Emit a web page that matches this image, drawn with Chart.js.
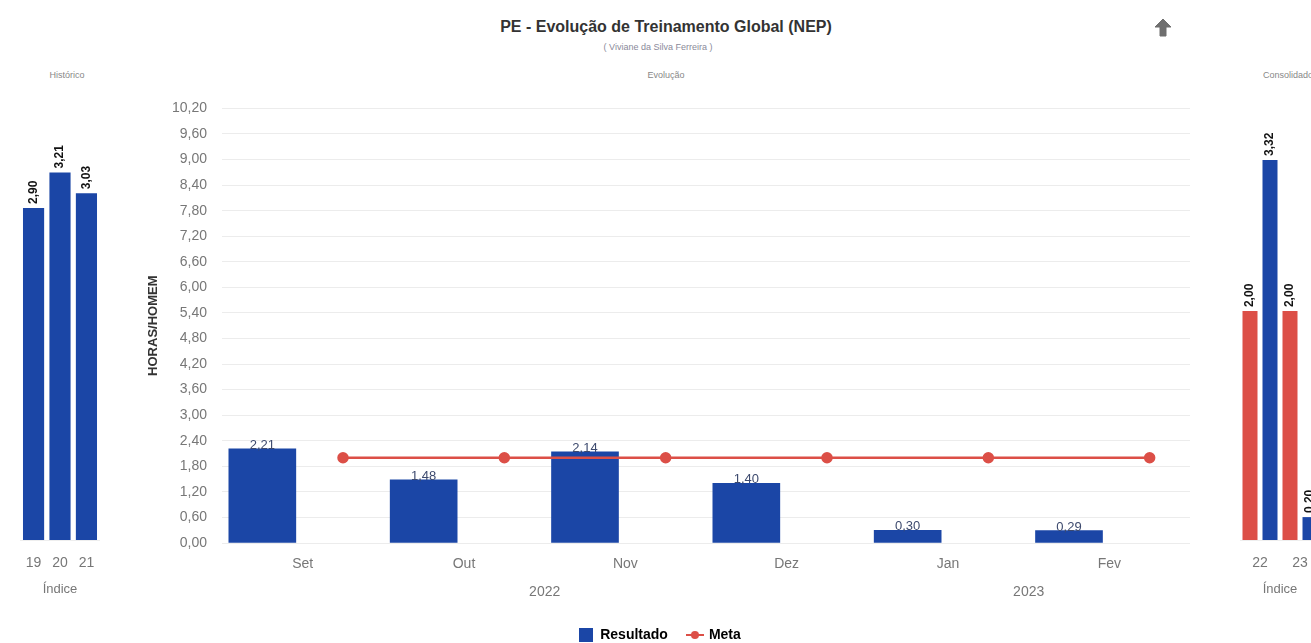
<!DOCTYPE html>
<html lang="pt-BR">
<head>
<meta charset="utf-8">
<title>PE - Evolução de Treinamento Global (NEP)</title>
<script src="https://cdn.jsdelivr.net/npm/chart.js@4.4.1/dist/chart.umd.min.js"></script>
<style>
    html, body {
        margin: 0;
        padding: 0;
        width: 1311px;
        height: 643px;
        overflow: hidden;
        background: #fff;
        font-family: "Liberation Sans", Arial, sans-serif;
    }
    .abs { position: absolute; }
    #title { left: 0; width: 1332px; top: 18px; text-align: center; font-size: 16px; font-weight: bold; color: #333; }
    #subtitle { left: 0; width: 1316px; top: 42px; text-align: center; font-size: 9px; color: #8a8a9a; }
    .small { font-size: 9px; color: #888; }
</style>
</head>
<body>
<div id="title" class="abs">PE - Evolução de Treinamento Global (NEP)</div>
<div id="subtitle" class="abs">( Viviane da Silva Ferreira )</div>
<svg class="abs" style="left:1155px;top:19px" width="16" height="18" viewBox="0 0 16 18">
    <polygon points="8,0 16,8 11,8 11,17 5,17 5,8 0,8" fill="#6f6f6f" stroke="#6f6f6f" stroke-linejoin="round" stroke-width="1"/>
</svg>
<div class="abs small" style="left:37px;top:70px;width:60px;text-align:center">Histórico</div>
<div class="abs small" style="left:636px;top:70px;width:60px;text-align:center">Evolução</div>
<div class="abs small" style="left:1263px;top:70px">Consolidado</div>

<div class="abs" style="left:19px;top:85px;width:82px;height:525px"><canvas id="histChart"></canvas></div>
<div class="abs" style="left:130px;top:85px;width:1070px;height:567px"><canvas id="mainChart"></canvas></div>
<div class="abs" style="left:1240px;top:85px;width:80px;height:525px"><canvas id="consChart"></canvas></div>

<script>
// monthly evolution
const months = ['Set', 'Out', 'Nov', 'Dez', 'Jan', 'Fev'];
const monthYears = ['2022', '2022', '2022', '2022', '2023', '2023'];
const resultado = [2.21, 1.48, 2.14, 1.40, 0.30, 0.29];
const meta = [2.00, 2.00, 2.00, 2.00, 2.00, 2.00];
const yMax = 10.2;
const yStep = 0.6;

// history (left)
const histLabels = ['19', '20', '21'];
const histValues = [2.90, 3.21, 3.03];

// consolidated (right)
const consLabels = ['22', '23'];
const consMeta = [2.00, 2.00];
const consResultado = [3.32, 0.20];

const BLUE = '#1b46a6';
const RED = '#dc4f47';
const FONT = '"Liberation Sans", Arial, sans-serif';

// draws the value above each bar
const barLabels = {
    id: 'barLabels',
    afterDatasetsDraw(chart, args, opts) {
        const ctx = chart.ctx;
        chart.data.datasets.forEach((ds, di) => {
            if (ds.type === 'line' || !chart.isDatasetVisible(di)) return;
            chart.getDatasetMeta(di).data.forEach((bar, i) => {
                const raw = ds.data[i];
                const v = (raw && typeof raw === 'object') ? raw.y : raw;
                if (v == null) return;
                const txt = v.toFixed(2).replace('.', ',');
                ctx.save();
                ctx.font = opts.font;
                ctx.fillStyle = opts.color;
                if (opts.rotate) {
                    ctx.translate(bar.x, bar.y - 4);
                    ctx.rotate(-Math.PI / 2);
                    ctx.textAlign = 'left';
                    ctx.textBaseline = 'middle';
                    ctx.fillText(txt, 0, 0);
                } else {
                    ctx.textAlign = 'center';
                    ctx.textBaseline = 'bottom';
                    ctx.fillText(txt, bar.x, bar.y + 3);
                }
                ctx.restore();
            });
        });
    }
};

// second row of the x axis: the year under its months
const yearLabels = {
    id: 'yearLabels',
    afterDraw(chart) {
        const x = chart.scales.x;
        const ctx = chart.ctx;
        let start = 0;
        ctx.save();
        ctx.font = '14px ' + FONT;
        ctx.fillStyle = '#777';
        ctx.textAlign = 'center';
        ctx.textBaseline = 'middle';
        for (let i = 1; i <= monthYears.length; i++) {
            if (i === monthYears.length || monthYears[i] !== monthYears[start]) {
                const cx = (x.getPixelForValue(start) + x.getPixelForValue(i - 1)) / 2;
                ctx.fillText(monthYears[start], cx, x.top + 49);
                start = i;
            }
        }
        ctx.restore();
    }
};

// legend icons
const squareIcon = document.createElement('canvas');
squareIcon.width = 14; squareIcon.height = 14;
squareIcon.getContext('2d').fillStyle = BLUE;
squareIcon.getContext('2d').fillRect(0, 0, 14, 14);

const lineIcon = document.createElement('canvas');
lineIcon.width = 18; lineIcon.height = 10;
(() => {
    const c = lineIcon.getContext('2d');
    c.strokeStyle = RED; c.fillStyle = RED; c.lineWidth = 2;
    c.beginPath(); c.moveTo(0, 5); c.lineTo(18, 5); c.stroke();
    c.beginPath(); c.arc(9, 5, 4, 0, Math.PI * 2); c.fill();
})();

// bars sit in the left half of each month, Meta points in the right half
new Chart(document.getElementById('mainChart'), {
    data: {
        labels: months,
        datasets: [
            {
                type: 'bar',
                label: 'Resultado',
                data: resultado.map((v, i) => ({ x: i - 0.25, y: v })),
                xAxisID: 'xm',
                backgroundColor: BLUE,
                barThickness: 67,
                order: 1
            },
            {
                type: 'line',
                label: 'Meta',
                data: meta.map((v, i) => ({ x: i + 0.25, y: v })),
                xAxisID: 'xm',
                borderColor: RED,
                backgroundColor: RED,
                borderWidth: 2.5,
                pointRadius: 4.5,
                pointHoverRadius: 4.5,
                order: 0
            }
        ]
    },
    options: {
        responsive: true,
        maintainAspectRatio: false,
        animation: false,
        layout: { autoPadding: false, padding: { top: 18, right: 10, left: 0, bottom: 0 } },
        plugins: {
            legend: {
                position: 'bottom',
                labels: {
                    usePointStyle: true,
                    padding: 20,
                    color: '#333',
                    font: { family: FONT, size: 14, weight: 'bold' },
                    generateLabels: () => [
                        { text: 'Resultado', pointStyle: squareIcon, fillStyle: BLUE, strokeStyle: BLUE, lineWidth: 0, datasetIndex: 0 },
                        { text: 'Meta', pointStyle: lineIcon, fillStyle: RED, strokeStyle: RED, lineWidth: 0, datasetIndex: 1 }
                    ]
                }
            },
            tooltip: { enabled: false },
            barLabels: { font: '13px ' + FONT, color: '#3d4a6e', rotate: false }
        },
        scales: {
            x: {
                type: 'category',
                offset: true,
                grid: { display: false },
                border: { display: false },
                ticks: { color: '#777', padding: 5, font: { family: FONT, size: 14 } },
                afterFit: (s) => { s.height = s.chart.height - 458 - (s.chart.legend ? s.chart.legend.height : 0); }
            },
            xm: {
                type: 'linear',
                display: false,
                offset: false,
                min: -0.5,
                max: months.length - 0.5
            },
            y: {
                min: 0,
                max: yMax,
                grid: { color: '#ececec', drawTicks: false },
                border: { display: false },
                ticks: {
                    stepSize: yStep,
                    padding: 15,
                    color: '#777',
                    font: { family: FONT, size: 14 },
                    callback: (v) => v.toFixed(2).replace('.', ',')
                },
                title: {
                    display: true,
                    text: 'HORAS/HOMEM',
                    color: '#333',
                    padding: { top: 16, bottom: 0 },
                    font: { family: FONT, size: 13, weight: 'bold' }
                },
                afterFit: (s) => { s.width = 92; }
            }
        }
    },
    plugins: [barLabels, yearLabels]
});

const sideOptions = (yTop) => ({
    responsive: true,
    maintainAspectRatio: false,
    animation: false,
    layout: { autoPadding: false, padding: { top: 20, left: 0, right: 0, bottom: 0 } },
    plugins: {
        legend: { display: false },
        tooltip: { enabled: false },
        barLabels: { font: 'bold 12px ' + FONT, color: '#111', rotate: true }
    },
    scales: {
        x: {
            grid: { display: false },
            border: { color: '#eeeeee' },
            ticks: { color: '#777', padding: 7, font: { family: FONT, size: 14 } },
            title: {
                display: true,
                text: 'Índice',
                color: '#777',
                padding: { top: 0, bottom: 13 },
                font: { family: FONT, size: 13 }
            },
            afterFit: (s) => { s.height = 70; }
        },
        y: { display: false, min: 0, max: yTop }
    }
});

new Chart(document.getElementById('histChart'), {
    type: 'bar',
    data: {
        labels: histLabels,
        datasets: [{ label: 'Resultado', data: histValues, backgroundColor: BLUE, barPercentage: 0.8, categoryPercentage: 1 }]
    },
    options: sideOptions(3.8),
    plugins: [barLabels]
});

new Chart(document.getElementById('consChart'), {
    type: 'bar',
    data: {
        labels: consLabels,
        datasets: [
            { label: 'Meta', data: consMeta, backgroundColor: RED, barPercentage: 0.75, categoryPercentage: 1 },
            { label: 'Resultado', data: consResultado, backgroundColor: BLUE, barPercentage: 0.75, categoryPercentage: 1 }
        ]
    },
    options: sideOptions(3.8),
    plugins: [barLabels]
});
</script>
</body>
</html>
